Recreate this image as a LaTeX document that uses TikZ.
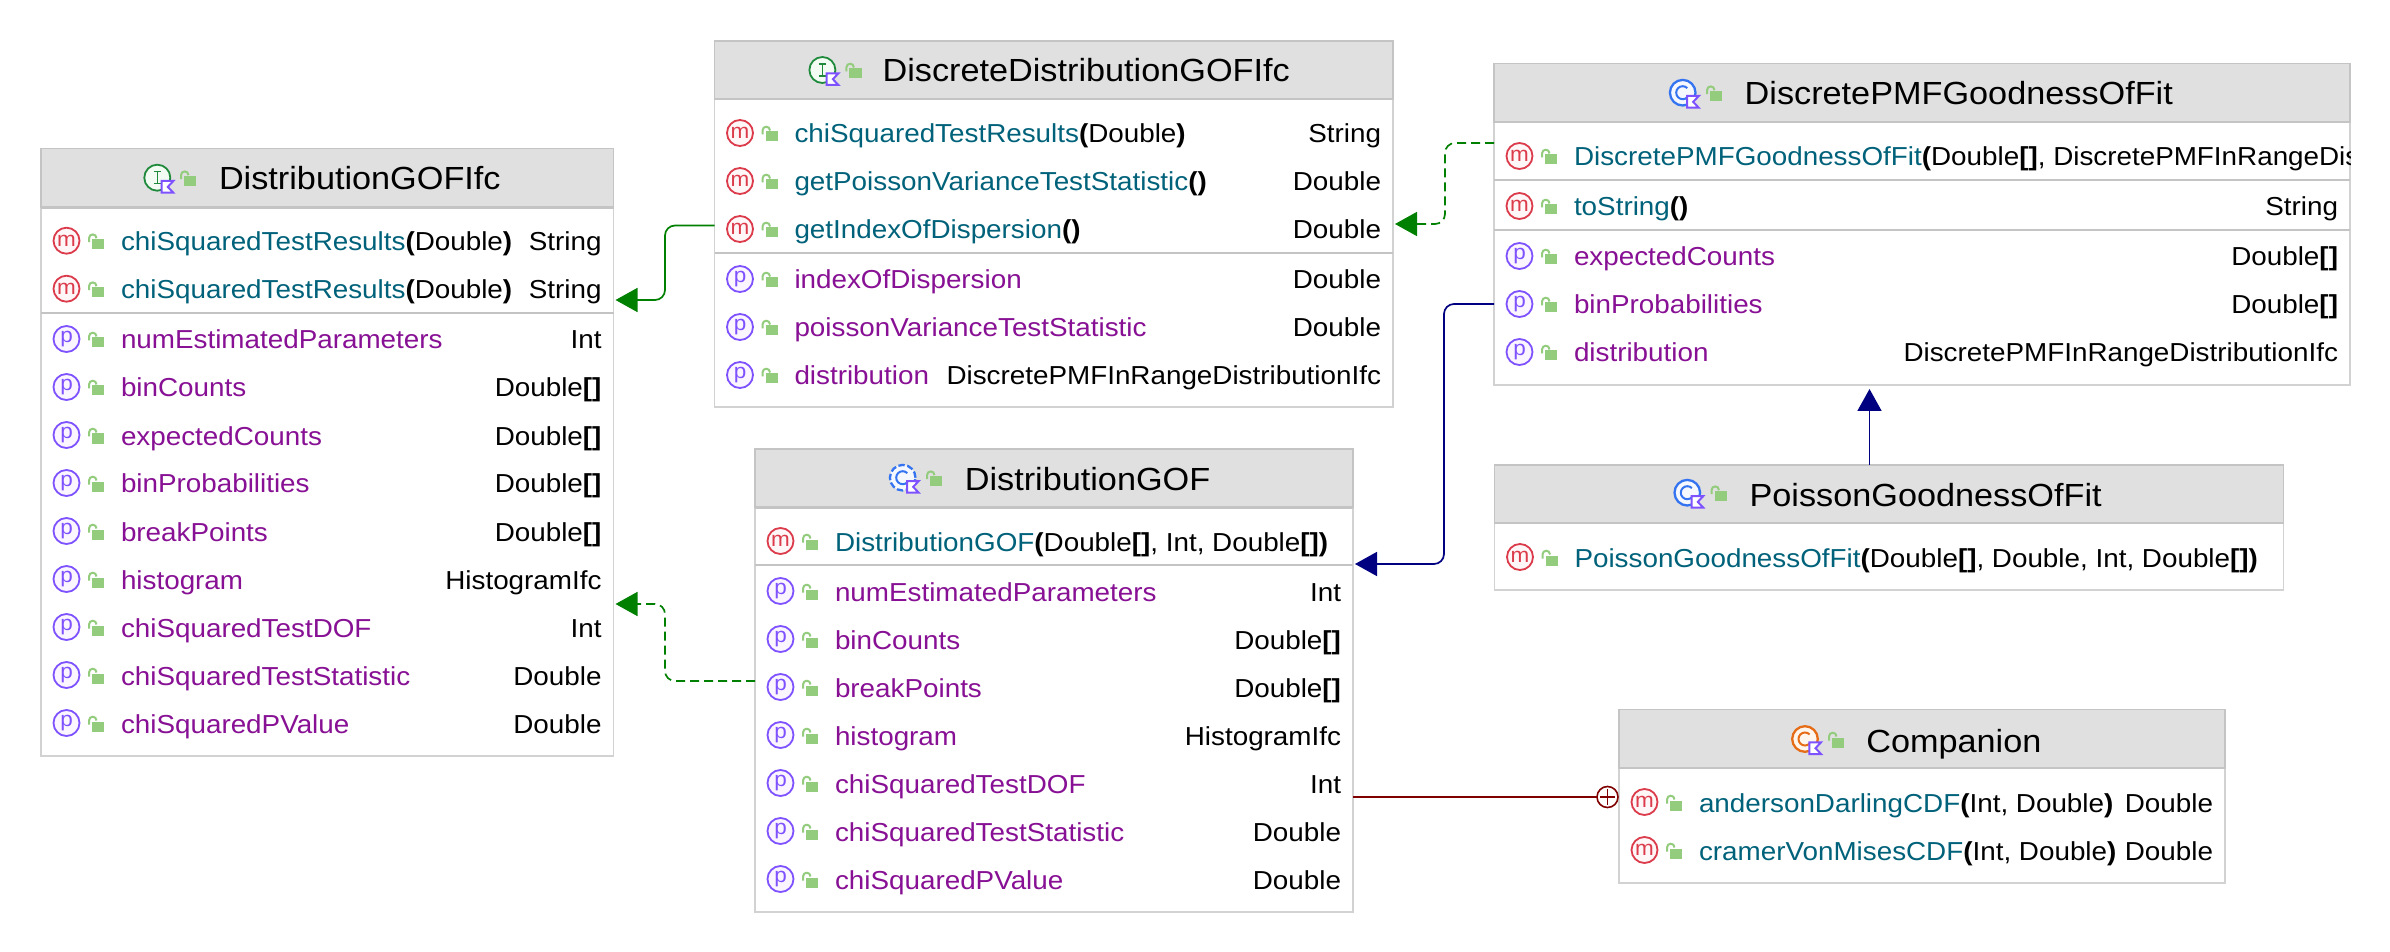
\documentclass[tikz,border=0pt]{standalone}
\usepackage{fontspec}
\setmainfont[FakeStretch=1.07]{Liberation Sans}
\usetikzlibrary{arrows.meta,fit}
\definecolor{mteal}{HTML}{00627A}
\definecolor{pviolet}{HTML}{871094}
\definecolor{iconred}{HTML}{DB3B4B}
\definecolor{iconredfill}{HTML}{FFF7F7}
\definecolor{iconpurple}{HTML}{7F52FF}
\definecolor{iconpurplefill}{HTML}{FAF5FF}
\definecolor{lockgreen}{HTML}{93CC7C}
\definecolor{headfill}{HTML}{E0E0E0}
\definecolor{boxline}{HTML}{C4C4C4}
\definecolor{boxlinelight}{HTML}{D2D2D2}
\definecolor{ifgreen}{HTML}{208A3C}
\definecolor{ifgreenfill}{HTML}{F2FCF3}
\definecolor{clblue}{HTML}{3574F0}
\definecolor{clbluefill}{HTML}{F5F8FE}
\definecolor{clorange}{HTML}{E66D17}
\definecolor{clorangefill}{HTML}{FFF6EE}
\definecolor{conngreen}{HTML}{008000}
\definecolor{connnavy}{HTML}{000080}
\definecolor{connred}{HTML}{800000}
\newcommand\rowfont{\fontsize{13pt}{15pt}\selectfont}
\newcommand\headfont{\fontsize{16pt}{18pt}\selectfont}
\newcommand\iconfont{\fontsize{10.5pt}{11pt}\selectfont}
\newcounter{nid}
\newcommand\nextid{\stepcounter{nid}}
\newcommand\bb[1]{\textbf{#1}}
\tikzset{
  x=0.5pt,y=-0.5pt,
  boxnode/.style={draw=boxlinelight,line width=0.7pt,fill=white,inner sep=0pt,outer sep=0pt},
  headbox/.style={draw=boxline,line width=0.9pt,fill=headfill},
  sepline/.style={draw=boxline,line width=1.1pt},
  rowtext/.style={inner sep=0pt,outer sep=0pt,anchor=base west,font=\rowfont},
  rowret/.style={inner sep=0pt,outer sep=0pt,anchor=base east,font=\rowfont},
  headtext/.style={inner sep=0pt,outer sep=0pt,anchor=base west,font=\headfont},
  iconletter/.style={inner sep=0pt,outer sep=0pt,anchor=base,font=\iconfont},
  flagicon/.style={draw=iconpurple,line width=1pt,fill=white,line join=miter},
  conn/.style={line width=0.85pt,rounded corners=5pt},
  greentip/.style={-{Triangle[length=11pt,width=12pt]},draw=conngreen,shorten >=1pt},
  navytip/.style={-{Triangle[length=11pt,width=12pt]},draw=connnavy,shorten >=1pt},
  dashline/.style={dash pattern=on 4.5pt off 2.5pt},
}
% name, x1, y1, x2, y2, yhead
\newcommand\umlbox[6]{%
  \coordinate (#1nw) at (#2,#3);
  \coordinate (#1se) at (#4,#5);
  \node[boxnode,fit=(#1nw)(#1se)] (#1) {};
  \draw[headbox] (#2,#3) rectangle (#4,#6);
  \draw[sepline] (#2,#6) -- (#4,#6);
}
\newcommand\sepat[2]{\draw[sepline] (#1.west |- 0,#2) -- (#1.east |- 0,#2);}
\newcommand\lockicon[2]{%
  \fill[lockgreen] ({#1},{#2-1.5}) rectangle ({#1+12.3},{#2+8.5});
  \draw[lockgreen,line width=1pt] ({#1-3},{#2+1.5}) -- ({#1-3},{#2-2.5}) .. controls ({#1-3},{#2-7.5}) and ({#1+4.5},{#2-7.5}) .. ({#1+4.5},{#2-2.5});
}
% x, y, baseline offset, colour, fill, letter
\newcommand\circicon[6]{%
  \draw[draw=#4,fill=#5,line width=0.9pt] (#1,#2) circle [radius=6.5pt];
  \nextid
  \node[iconletter,text=#4] (ic\arabic{nid}) at (#1,{#2+#3}) {#6};
}
% x1, x2, y, method, params, return
\newcommand\mrow[6]{%
  \circicon{#1+25.5}{#3}{5.5}{iconred}{iconredfill}{m}
  \lockicon{#1+51}{#3}
  \nextid
  \node[rowtext] (t\arabic{nid}) at ({#1+80},{#3+10}) {\textcolor{mteal}{#4}#5};
  \nextid
  \node[rowret] (t\arabic{nid}) at ({#2-12},{#3+10}) {#6};
}
% x1, x2, y, property, type
\newcommand\prow[5]{%
  \circicon{#1+25.5}{#3}{3.3}{iconpurple}{iconpurplefill}{p}
  \lockicon{#1+51}{#3}
  \nextid
  \node[rowtext] (t\arabic{nid}) at ({#1+80},{#3+10}) {\textcolor{pviolet}{#4}};
  \nextid
  \node[rowret] (t\arabic{nid}) at ({#2-12},{#3+10}) {#5};
}
\newcommand\flagat[2]{%
  \draw[flagicon] ({#1+4.3},{#2+3.3}) -- ({#1+16},{#2+3.3}) -- ({#1+10.5},{#2+9.2}) -- ({#1+16},{#2+15}) -- ({#1+4.3},{#2+15}) -- cycle;
}
\newcommand\ifaceicon[2]{%
  \draw[draw=ifgreen,fill=ifgreenfill,line width=0.9pt] (#1,#2) circle [radius=6.5pt];
  \draw[ifgreen,line width=0.8pt] ({#1-3.5},{#2-6}) -- ({#1+3.5},{#2-6}) ({#1},{#2-6}) -- ({#1},{#2+6}) ({#1-3.5},{#2+6}) -- ({#1+3.5},{#2+6});
  \flagat{#1}{#2}
}
% x, y, colour, fill, ring style
\newcommand\classicon[5]{%
  \draw[draw=#3,fill=#4,line width=1.15pt,#5] (#1,#2) circle [radius=6.4pt];
  \draw[#3,line width=1pt] ({#1+4.6},{#2-4.6}) arc [start angle=45,end angle=315,radius=3.25pt];
  \flagat{#1}{#2}
}
\begin{document}
\begin{tikzpicture}
\useasboundingbox (0,0) rectangle (2390,952);
\fill[white] (0,0) rectangle (2390,952);
% --- DistributionGOFIfc
\umlbox{bA}{41}{148.5}{613.5}{756}{207.5}
\ifaceicon{157.3}{177.7}
\lockicon{184}{177.7}
\node[headtext] (hA) at (219,190) {DistributionGOFIfc};
\mrow{41}{613.5}{240.7}{chiSquaredTestResults}{\bb{(}Double\bb{)}}{String}
\mrow{41}{613.5}{288.7}{chiSquaredTestResults}{\bb{(}Double\bb{)}}{String}
\sepat{bA}{312.7}
\prow{41}{613.5}{339}{numEstimatedParameters}{Int}
\prow{41}{613.5}{387}{binCounts}{Double\bb{[]}}
\prow{41}{613.5}{435}{expectedCounts}{Double\bb{[]}}
\prow{41}{613.5}{483}{binProbabilities}{Double\bb{[]}}
\prow{41}{613.5}{531}{breakPoints}{Double\bb{[]}}
\prow{41}{613.5}{579}{histogram}{HistogramIfc}
\prow{41}{613.5}{627}{chiSquaredTestDOF}{Int}
\prow{41}{613.5}{675}{chiSquaredTestStatistic}{Double}
\prow{41}{613.5}{723}{chiSquaredPValue}{Double}
% --- DiscreteDistributionGOFIfc
\umlbox{bB}{714.5}{40.7}{1393}{407}{99}
\ifaceicon{822.4}{70}
\lockicon{849.4}{70}
\node[headtext] (hB) at (882.6,82) {DiscreteDistributionGOFIfc};
\mrow{714.5}{1393}{133}{chiSquaredTestResults}{\bb{(}Double\bb{)}}{String}
\mrow{714.5}{1393}{181}{getPoissonVarianceTestStatistic}{\bb{()}}{Double}
\mrow{714.5}{1393}{229}{getIndexOfDispersion}{\bb{()}}{Double}
\sepat{bB}{252.7}
\prow{714.5}{1393}{279}{indexOfDispersion}{Double}
\prow{714.5}{1393}{327}{poissonVarianceTestStatistic}{Double}
\prow{714.5}{1393}{375}{distribution}{DiscretePMFInRangeDistributionIfc}
% --- DiscretePMFGoodnessOfFit
\umlbox{bC}{1494}{63.5}{2350}{385}{122}
\classicon{1682.7}{92.7}{clblue}{clbluefill}{}
\lockicon{1710}{92.7}
\node[headtext] (hC) at (1744.7,104.7) {DiscretePMFGoodnessOfFit};
\circicon{1494+25.5}{156}{5.5}{iconred}{iconredfill}{m}
\lockicon{1545}{156}
\begin{scope}
  \clip (bC.north west) rectangle (bC.south east);
  \node[rowtext] (tCctor) at (1574,166) {\textcolor{mteal}{DiscretePMFGoodnessOfFit}\bb{(}Double\bb{[]}, DiscretePMFInRangeDistributionIfc\bb{)}};
\end{scope}
\sepat{bC}{180}
\mrow{1494}{2350}{206}{toString}{\bb{()}}{String}
\sepat{bC}{230}
\prow{1494}{2350}{256}{expectedCounts}{Double\bb{[]}}
\prow{1494}{2350}{304}{binProbabilities}{Double\bb{[]}}
\prow{1494}{2350}{352}{distribution}{DiscretePMFInRangeDistributionIfc}
% --- DistributionGOF
\umlbox{bD}{755}{449}{1353}{912}{507.5}
\classicon{902.7}{477.7}{clblue}{clbluefill}{dash pattern=on 3.2pt off 1.3pt}
\lockicon{930}{477.7}
\node[headtext] (hD) at (964.8,490) {DistributionGOF};
\mrow{755}{1353}{541}{DistributionGOF}{\bb{(}Double\bb{[]}, Int, Double\bb{[])}}{}
\sepat{bD}{565}
\prow{755}{1353}{591}{numEstimatedParameters}{Int}
\prow{755}{1353}{639}{binCounts}{Double\bb{[]}}
\prow{755}{1353}{687}{breakPoints}{Double\bb{[]}}
\prow{755}{1353}{735}{histogram}{HistogramIfc}
\prow{755}{1353}{783}{chiSquaredTestDOF}{Int}
\prow{755}{1353}{831}{chiSquaredTestStatistic}{Double}
\prow{755}{1353}{879}{chiSquaredPValue}{Double}
% --- PoissonGoodnessOfFit
\umlbox{bE}{1494.5}{465}{2283.5}{590}{523}
\classicon{1687.3}{492.7}{clblue}{clbluefill}{}
\lockicon{1714.5}{492.7}
\node[headtext] (hE) at (1749.6,506) {PoissonGoodnessOfFit};
\mrow{1494.5}{2283.5}{557}{PoissonGoodnessOfFit}{\bb{(}Double\bb{[]}, Double, Int, Double\bb{[])}}{}
% --- Companion
\umlbox{bF}{1619}{709.5}{2225}{883}{768}
\classicon{1805}{739}{clorange}{clorangefill}{}
\lockicon{1832}{739}
\node[headtext] (hF) at (1866.3,752) {Companion};
\mrow{1619}{2225}{802}{andersonDarlingCDF}{\bb{(}Int, Double\bb{)}}{Double}
\mrow{1619}{2225}{850}{cramerVonMisesCDF}{\bb{(}Int, Double\bb{)}}{Double}
% --- connectors
\coordinate (eAB) at (665,300);
\draw[conn,greentip] (bB.west |- 0,225.5) -| (eAB) -- (bA.east |- eAB);
\coordinate (eBC) at (1445,224);
\draw[conn,greentip,dashline] (bC.west |- 0,143) -| (eBC) -- (bB.east |- eBC);
\coordinate (eDC) at (1444,564);
\draw[conn,navytip] (bC.west |- 0,304) -| (eDC) -- (bD.east |- eDC);
\coordinate (eAD) at (665,604);
\draw[conn,greentip,dashline] (bD.west |- 0,681) -| (eAD) -- (bA.east |- eAD);
\coordinate (xEC) at (1869.5,430);
\draw[conn,navytip,shorten >=2pt] (xEC |- bE.north) -- (xEC |- bC.south);
\node[circle,draw=connred,line width=0.8pt,fill=white,minimum size=10.5pt,inner sep=0pt,outer sep=0pt] (plusF) at (1607.5,797) {};
\draw[connred,line width=0.75pt,shorten >=1.4pt,shorten <=1.4pt] (plusF.north) -- (plusF.south);
\draw[connred,line width=0.75pt,shorten >=1.4pt,shorten <=1.4pt] (plusF.west) -- (plusF.east);
\draw[connred,line width=1pt] (bD.east |- plusF.west) -- (plusF.west);
\end{tikzpicture}
\end{document}
